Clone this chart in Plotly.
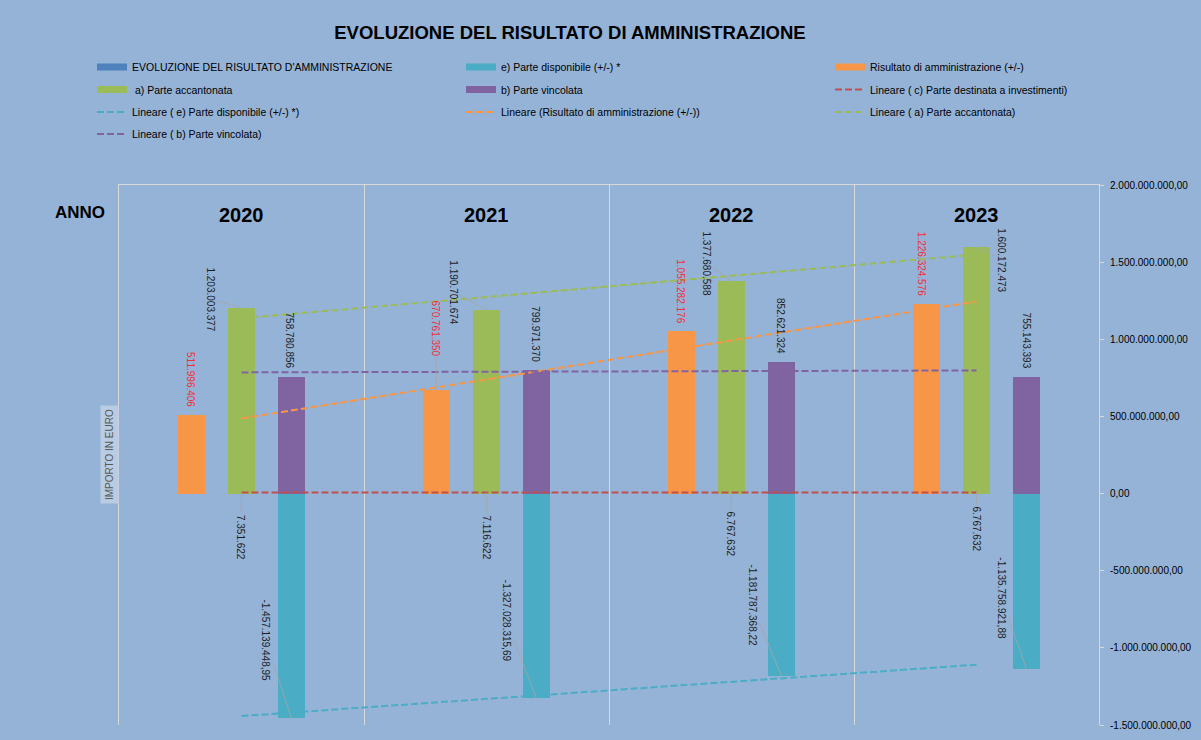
import numpy as np
import plotly.graph_objects as go

# ---------------- data ----------------
years = ["2020", "2021", "2022", "2023"]
risultato = [511996406, 670761350, 1055282176, 1226324576]          # Risultato di amministrazione (+/-)
accantonata = [1203003377, 1190701674, 1377680588, 1600172473]      # a) Parte accantonata
vincolata = [758780856, 799971370, 852621324, 755143393]            # b) Parte vincolata
investimenti = [7351622, 7116622, 6767632, 6767632]                 # c) Parte destinata a investimenti
disponibile = [-1457139448.95, -1327028315.69, -1181787368.22, -1135758921.88]  # e) Parte disponibile
y_ticks = [2e9, 1.5e9, 1e9, 5e8, 0, -5e8, -1e9, -1.5e9]

# ---------------- style ----------------
BG = "#95B3D7"
BLUE, CYAN, ORANGE = "#4F81BD", "#4BACC6", "#F79646"
GREEN, PURPLE, RED = "#9BBB59", "#8064A2", "#C0504D"
GRID = "#D9D9D9"
FONT = "Liberation Sans, Arial, sans-serif"
LABEL_RED = "#F0303C"
LABEL_DARK = "#1F1F1F"
LEADER = "#A6A6A6"

W = 0.109                 # bar width (category units)
SLOT = 0.204              # distance of side bars from category centre


def fmt_it(v, dec=0):
    s = f"{v:,.{dec}f}"
    return s.replace(",", "X").replace(".", ",").replace("X", ".")


fig = go.Figure()

# bars
fig.add_trace(go.Bar(x=years, y=risultato, width=W, offset=-SLOT - W / 2,
                     marker=dict(color=ORANGE, line=dict(width=0)), showlegend=False))
fig.add_trace(go.Bar(x=years, y=investimenti, width=W, offset=-W / 2,
                     marker=dict(color=RED, line=dict(width=0)), showlegend=False))
fig.add_trace(go.Bar(x=years, y=accantonata, width=W, offset=-W / 2,
                     marker=dict(color=GREEN, line=dict(width=0)), showlegend=False))
fig.add_trace(go.Bar(x=years, y=vincolata, width=W, offset=SLOT - W / 2,
                     marker=dict(color=PURPLE, line=dict(width=0)), showlegend=False))
fig.add_trace(go.Bar(x=years, y=disponibile, width=W, offset=SLOT - W / 2,
                     marker=dict(color=CYAN, line=dict(width=0)), showlegend=False))

# linear trendlines (least squares over the four years)
xi = np.arange(1, len(years) + 1)


def trend(vals):
    c = np.polyfit(xi, np.array(vals, dtype=float), 1)
    return np.polyval(c, xi)


DASH = "7px,3px"
trend_specs = [
    ("Lineare ( c) Parte destinata a investimenti)", investimenti, RED, "legend6"),
    ("Lineare ( e) Parte disponibile (+/-) *)", disponibile, CYAN, "legend7"),
    ("Lineare (Risultato di amministrazione (+/-))", risultato, ORANGE, "legend8"),
    ("Lineare ( a) Parte accantonata)", accantonata, GREEN, "legend9"),
    ("Lineare ( b) Parte vincolata)", vincolata, PURPLE, "legend10"),
]
for name, vals, col, lg in trend_specs:
    fig.add_trace(go.Scatter(x=years, y=trend(vals), mode="lines", name=name,
                             line=dict(color=col, width=2, dash=DASH),
                             legend=lg, hoverinfo="skip"))

# legend proxies for the bar series (wide swatches)
bar_legend = [
    ("EVOLUZIONE DEL RISULTATO D'AMMINISTRAZIONE", BLUE, "legend"),
    ("e) Parte disponibile (+/-) *", CYAN, "legend2"),
    ("Risultato di amministrazione (+/-)", ORANGE, "legend3"),
    (" a) Parte accantonata", GREEN, "legend4"),
    ("b) Parte vincolata", PURPLE, "legend5"),
]
for name, col, lg in bar_legend:
    fig.add_trace(go.Scatter(x=[None], y=[None], mode="lines", name=name,
                             line=dict(color=col, width=7), legend=lg))

# legends: one per entry, 3 columns x 4 rows
col_x = [92, 461, 830]
row_y = [67, 89.5, 112, 134]
legend_pos = {
    "legend": (0, 0), "legend2": (1, 0), "legend3": (2, 0),
    "legend4": (0, 1), "legend5": (1, 1), "legend6": (2, 1),
    "legend7": (0, 2), "legend8": (1, 2), "legend9": (2, 2),
    "legend10": (0, 3),
}
legend_layout = {}
for key, (c, r) in legend_pos.items():
    legend_layout[key] = dict(
        x=col_x[c] / 1201, xref="container", xanchor="left",
        y=1 - row_y[r] / 740, yref="container", yanchor="middle",
        bgcolor="rgba(0,0,0,0)", borderwidth=0,
        font=dict(family=FONT, size=10.5, color="#000000"),
        itemwidth=30, orientation="v",
    )

# ---------------- data labels ----------------
annotations = []


def add_labels(vals, slot, offsets, leaders, color, dec=0):
    for i, v in enumerate(vals):
        dx, dy = offsets[i]
        annotations.append(dict(
            x=i + slot, y=v, xref="x", yref="y",
            text=fmt_it(v, dec), textangle=90,
            font=dict(family=FONT, size=10, color=color),
            showarrow=True, ax=dx, ay=dy, axref="pixel", ayref="pixel",
            arrowhead=0, arrowwidth=0.8, standoff=0, startstandoff=0,
            arrowcolor=LEADER if leaders[i] else "rgba(0,0,0,0)",
        ))


add_labels(risultato, -SLOT, [(-1, -35), (-1, -62), (-1, -40), (-5, -41)],
           [False, True, False, False], LABEL_RED)
add_labels(accantonata, 0, [(-31, -9), (-33, -18), (-25, -18), (25, 13)],
           [True, True, True, True], LABEL_DARK)
add_labels(vincolata, SLOT, [(-1.5, -36), (-0.5, -36), (-0.5, -36), (0, -36)],
           [False, False, False, False], LABEL_DARK)
add_labels(disponibile, SLOT, [(-25.5, -78), (-30, -77), (-29, -70), (-25, -70)],
           [True, True, True, True], LABEL_DARK, dec=2)
add_labels(investimenti, 0, [(-1, 45), (0.5, 45), (-1.5, 41), (-0.5, 36)],
           [True, True, True, True], LABEL_DARK)

# year labels (category axis labels drawn inside the plot, near the top)
for i, yr in enumerate(years):
    annotations.append(dict(
        text=f"<b>{yr}</b>", x=i, xref="x", y=(725 - 215) / 540, yref="paper",
        xanchor="center", yanchor="middle", showarrow=False,
        font=dict(family=FONT, size=20, color="#000000"),
    ))

# static texts
annotations.append(dict(
    text="<b>ANNO</b>", x=(80 - 119) / 980, y=(725 - 213) / 540,
    xref="paper", yref="paper", showarrow=False, xanchor="center", yanchor="middle",
    font=dict(family=FONT, size=17, color="#000000"),
))
annotations.append(dict(
    text="IMPORTO IN EURO", x=(109.5 - 119) / 980, y=(725 - 454.5) / 540,
    xref="paper", yref="paper", showarrow=False, textangle=-90,
    xanchor="center", yanchor="middle",
    font=dict(family=FONT, size=10, color="#595959"),
    bgcolor="#B8CCE4", borderpad=3,
))

y_ticktext = [fmt_it(v, 2) for v in y_ticks]

fig.update_layout(
    width=1201, height=740,
    paper_bgcolor=BG, plot_bgcolor=BG,
    margin=dict(l=119, r=102, t=185, b=15, autoexpand=False),
    barmode="overlay",
    bargap=0,
    title=dict(text="<b>EVOLUZIONE DEL RISULTATO DI AMMINISTRAZIONE</b>",
               x=570 / 1201, xref="container", xanchor="center",
               y=1 - 33 / 740, yref="container", yanchor="middle",
               font=dict(family=FONT, size=18.5, color="#000000")),
    xaxis=dict(type="category", side="top", range=[-0.5, 3.5],
               showgrid=True, gridcolor=GRID, gridwidth=1, tickson="boundaries",
               ticks="", showline=True, linecolor=GRID, linewidth=1,
               showticklabels=False,
               zeroline=False, fixedrange=True, automargin=False),
    yaxis=dict(side="right", range=[-1.5e9, 2e9], tickvals=y_ticks, ticktext=y_ticktext,
               ticks="outside", ticklen=4, tickcolor=GRID, showline=True, mirror=True,
               linecolor=GRID, linewidth=1, showgrid=False, zeroline=False,
               ticklabelstandoff=4,
               tickfont=dict(family=FONT, size=10, color="#000000"), fixedrange=True,
               automargin=False),
    annotations=annotations,
    showlegend=True,
    **legend_layout,
)

fig.write_html("out.html", config={"displayModeBar": False},
               post_script="document.body.style.margin='0';document.body.style.overflow='hidden';")
